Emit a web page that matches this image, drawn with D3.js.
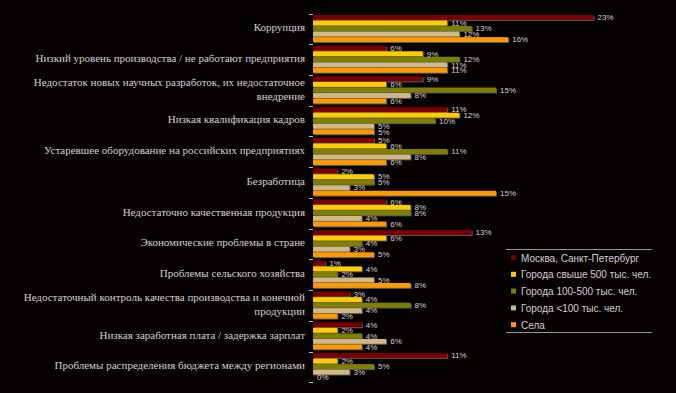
<!DOCTYPE html>
<html><head><meta charset="utf-8">
<script src="https://cdn.jsdelivr.net/npm/d3@7/dist/d3.min.js"></script>
<style>html,body{margin:0;padding:0;background:#060202;}svg{display:block;}</style>
</head><body><svg id="c" width="676" height="393"></svg>
<script>
const categories = [
  "Коррупция",
  "Низкий уровень производства / не работают предприятия",
  "Недостаток новых научных разработок, их недостаточное|внедрение",
  "Низкая квалификация кадров",
  "Устаревшее оборудование на российских предприятиях",
  "Безработица",
  "Недостаточно качественная продукция",
  "Экономические проблемы в стране",
  "Проблемы сельского хозяйства",
  "Недостаточный контроль качества производства и конечной|продукции",
  "Низкая заработная плата / задержка зарплат",
  "Проблемы распределения бюджета между регионами"
];
const seriesNames = ["Москва, Санкт-Петербург","Города свыше 500 тыс. чел.","Города 100-500 тыс. чел.","Города <100 тыс. чел.","Села"];
const moscow  = [23, 6, 9, 11, 5, 2, 6, 13, 1, 3, 4, 11];
const big     = [11, 9, 6, 12, 6, 5, 8, 6, 4, 4, 2, 2];
const mid     = [13, 12, 15, 10, 11, 5, 8, 4, 2, 8, 4, 5];
const small   = [12, 11, 8, 5, 8, 3, 4, 3, 5, 4, 6, 3];
const village = [16, 11, 6, 5, 6, 15, 6, 5, 8, 2, 4, 0];
const colors = ["#7a0000","#ffcc00","#808000","#d2b882","#ff9900"];
const series = [moscow, big, mid, small, village];

const svg = d3.select("#c");
const x = d3.scaleLinear().domain([0, 25]).range([313, 618]);
const y = d3.scaleBand().domain(d3.range(categories.length)).range([13.5, 382.3]).padding(0);
const yi = d3.scaleBand().domain(d3.range(5)).range([1.5, 28.5]).paddingInner(0.12);
const textCol = "#d6cbd6";

// ticks at band boundaries
svg.append("g").selectAll("line").data(d3.range(categories.length + 1)).join("line")
  .attr("x1", 309).attr("x2", 313)
  .attr("y1", i => Math.round(13.5 + i * y.step()) + 0.5)
  .attr("y2", i => Math.round(13.5 + i * y.step()) + 0.5)
  .attr("stroke", "#bbbbbb").attr("stroke-width", 1);

const g = svg.append("g");
categories.forEach((cat, ci) => {
  const gy = y(ci);
  series.forEach((vals, si) => {
    const v = vals[ci];
    const by = gy + yi(si);
    const bh = yi.bandwidth();
    if (v > 0) {
      g.append("rect").attr("x", x(0) + 1).attr("y", by + 1)
        .attr("width", x(v) - x(0)).attr("height", bh).attr("fill", "#5a5a5a");
      g.append("rect").attr("x", x(0)).attr("y", by)
        .attr("width", x(v) - x(0)).attr("height", bh).attr("fill", colors[si]);
    }
    g.append("text").attr("x", x(v) + 4).attr("y", by + bh / 2)
      .attr("dy", "0.35em").attr("font-family", "Liberation Sans, Arial, sans-serif")
      .attr("font-size", 8).attr("fill", textCol).text(v + "%");
  });
  const lines = cat.split("|");
  const t = svg.append("text").attr("text-anchor", "end")
    .attr("font-family", "Liberation Serif, Times New Roman, serif")
    .attr("font-size", 11).attr("fill", textCol);
  const lh = 14;
  const cy = gy + y.step() / 2 - 1.5 - (lines.length - 1) * lh / 2;
  lines.forEach((ln, li) => {
    t.append("tspan").attr("x", 305).attr("y", cy + li * lh).attr("dy", "0.35em").text(ln);
  });
});

// legend
const lg = svg.append("g");
lg.append("line").attr("x1", 506).attr("x2", 652).attr("y1", 249.5).attr("y2", 249.5).attr("stroke", "#999").attr("stroke-width", 1);
lg.append("line").attr("x1", 506).attr("x2", 652).attr("y1", 332.5).attr("y2", 332.5).attr("stroke", "#999").attr("stroke-width", 1);
seriesNames.forEach((name, i) => {
  const ly = 258 + i * 16.8;
  lg.append("rect").attr("x", 511).attr("y", ly - 3).attr("width", 5).attr("height", 5).attr("fill", colors[i]);
  lg.append("text").attr("x", 521).attr("y", ly).attr("dy", "0.35em")
    .attr("font-family", "Liberation Sans, Arial, sans-serif").attr("font-size", 10)
    .attr("fill", textCol).text(name);
});
</script></body></html>
